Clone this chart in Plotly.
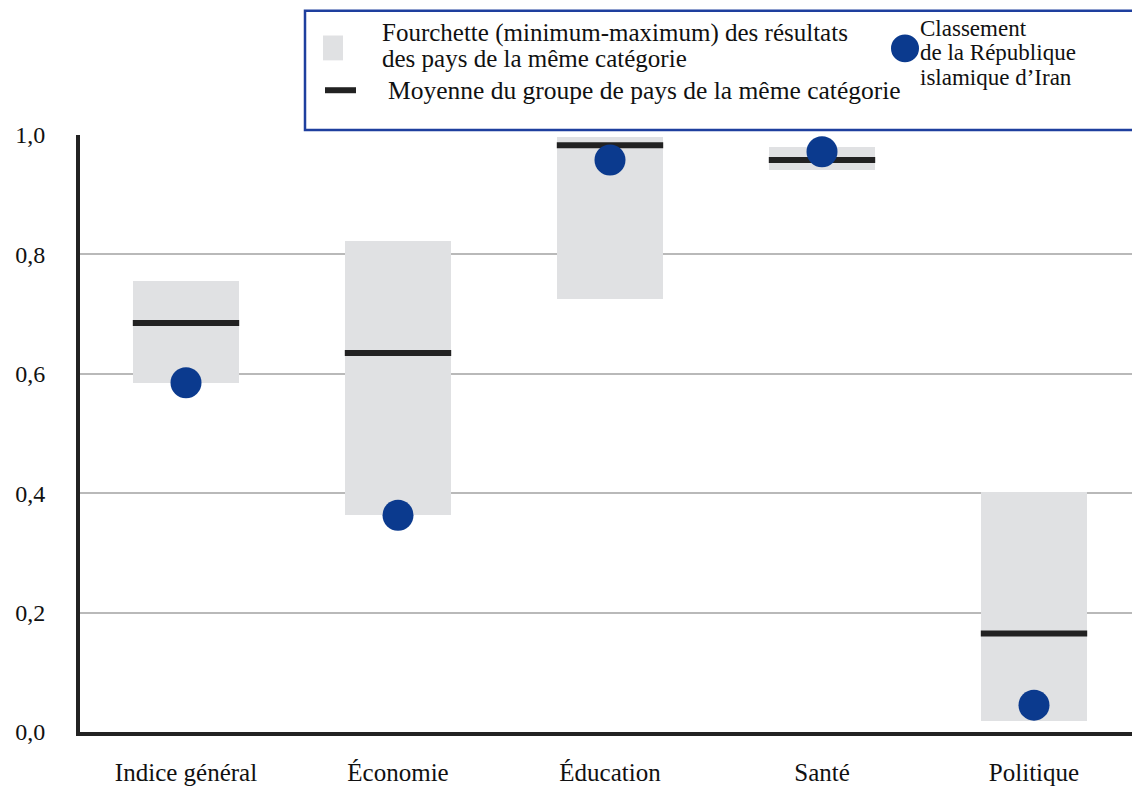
import plotly.graph_objects as go

categories = ["Indice général", "Économie", "Éducation", "Santé", "Politique"]
range_min = [0.585, 0.363, 0.725, 0.942, 0.018]
range_max = [0.755, 0.823, 0.997, 0.980, 0.402]
group_mean = [0.685, 0.635, 0.983, 0.958, 0.165]
iran_score = [0.585, 0.363, 0.958, 0.972, 0.045]
y_ticks = [0.0, 0.2, 0.4, 0.6, 0.8, 1.0]

legend_range = ["Fourchette (minimum-maximum) des résultats", "des pays de la même catégorie"]
legend_mean = "Moyenne du groupe de pays de la même catégorie"
legend_iran = ["Classement", "de la République", "islamique d’Iran"]

FONT = "Liberation Serif, Times New Roman, serif"
GREY = "#e0e1e3"
BLUE = "#0b3a8e"
DARK = "#222222"
TXT = "#111111"

xs = list(range(len(categories)))
heights = [mx - mn for mn, mx in zip(range_min, range_max)]

fig = go.Figure()
fig.add_trace(go.Bar(x=xs, y=heights, base=range_min, width=0.5,
                     marker=dict(color=GREY, line=dict(width=0)),
                     showlegend=False, hoverinfo="skip"))
fig.add_trace(go.Scatter(x=xs, y=group_mean, mode="markers",
                         marker=dict(symbol="line-ew", size=76,
                                     line=dict(width=6, color=DARK)),
                         showlegend=False))
fig.add_trace(go.Scatter(x=xs, y=iran_score, mode="markers",
                         marker=dict(size=31, color=BLUE, line=dict(width=0)),
                         showlegend=False))

# page has an 8px body margin; the figure is sized so the plot lands where the reference has it
OFF = 8
L, R, T, B = 80, 1140, 135, 735
W, H = 1140 - OFF, 786 - OFF
def px(x):
    return (x - L) / (R - L)
def py(y):
    return (B - y) / (B - T)

shapes = [
    dict(type="rect", xref="paper", yref="paper", x0=px(305), x1=px(1150),
         y0=py(130), y1=py(10), line=dict(color="#1e3f9e", width=2.5),
         fillcolor="white", layer="above"),
    dict(type="rect", xref="paper", yref="paper", x0=px(323), x1=px(343),
         y0=py(60), y1=py(35), line=dict(width=0), fillcolor=GREY, layer="above"),
    dict(type="line", xref="paper", yref="paper", x0=px(325), x1=px(356),
         y0=py(90), y1=py(90), line=dict(color=DARK, width=6), layer="above"),
    dict(type="circle", xref="paper", yref="paper", x0=px(891), x1=px(919),
         y0=py(62), y1=py(34), line=dict(width=0), fillcolor=BLUE, layer="above"),
]

annotations = []
for i, line in enumerate(legend_range):
    annotations.append(dict(xref="paper", yref="paper", x=px(380), y=py(32 + 26 * i),
                            text=line, showarrow=False, xanchor="left", yanchor="middle",
                            font=dict(family=FONT, size=25, color=TXT)))
annotations.append(dict(xref="paper", yref="paper", x=px(386), y=py(90), text=legend_mean,
                        showarrow=False, xanchor="left", yanchor="middle",
                        font=dict(family=FONT, size=25.5, color=TXT)))
for i, line in enumerate(legend_iran):
    annotations.append(dict(xref="paper", yref="paper", x=px(918), y=py(28 + 24.5 * i),
                            text=line, showarrow=False, xanchor="left", yanchor="middle",
                            font=dict(family=FONT, size=23, color=TXT)))

fig.update_layout(
    width=W, height=H,
    margin=dict(l=L - OFF, r=0, t=T - OFF, b=H - (B - OFF)),
    plot_bgcolor="white", paper_bgcolor="white",
    separators=", ",
    font=dict(family=FONT, size=24, color=TXT),
    shapes=shapes, annotations=annotations,
    bargap=0,
)
fig.update_xaxes(range=[-0.5, 4.5], tickmode="array", tickvals=xs, ticktext=categories,
                 showgrid=False, showline=True, linecolor=DARK, linewidth=4,
                 ticks="", ticklabelstandoff=15, zeroline=False,
                 tickfont=dict(family=FONT, size=25, color=TXT))
fig.update_yaxes(range=[0, 1], tickmode="array", tickvals=y_ticks, tickformat=".1f",
                 showgrid=True, gridcolor="#b9b9b9", gridwidth=2,
                 showline=True, linecolor=DARK, linewidth=4, zeroline=False,
                 ticks="", ticklabelstandoff=26,
                 tickfont=dict(family=FONT, size=24, color=TXT))

fig.write_html("out.html")
